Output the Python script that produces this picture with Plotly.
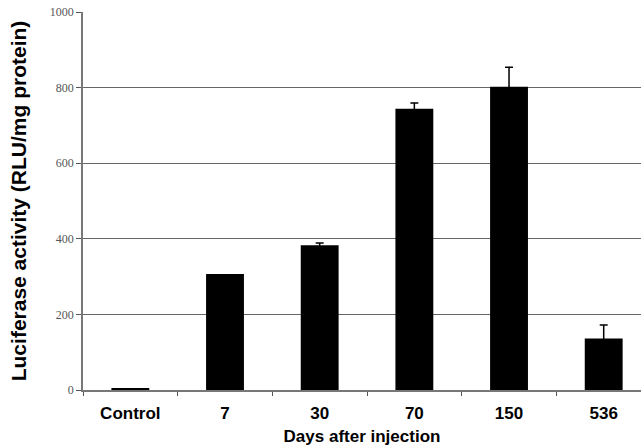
import plotly.graph_objects as go

categories = ["Control", "7", "30", "70", "150", "536"]
values = [5, 307, 383, 744, 802, 136]
errors = [0, 0, 6, 15, 52, 36]
y_ticks = [0, 200, 400, 600, 800, 1000]

fig = go.Figure()
fig.add_trace(go.Bar(
    x=categories, y=values, width=0.4,
    marker=dict(color="black", line=dict(width=0)),
))

err_idx = [i for i, e in enumerate(errors) if e > 0]
fig.add_trace(go.Scatter(
    x=[categories[i] for i in err_idx],
    y=[values[i] for i in err_idx],
    mode="markers", marker=dict(size=0.1, color="black", opacity=0),
    error_y=dict(type="data", symmetric=True,
                 array=[errors[i] for i in err_idx],
                 color="black", thickness=1.5, width=4),
    hoverinfo="skip",
))

fig.update_layout(
    width=641, height=446,
    margin=dict(l=83, r=0, t=12, b=56),
    plot_bgcolor="white", paper_bgcolor="white",
    showlegend=False, bargap=0.6,
)
fig.update_xaxes(
    range=[-0.5, 5.394], type="category", automargin=False,
    showline=True, linecolor="#777777", linewidth=1.5,
    ticks="outside", tickson="boundaries", ticklen=4, tickcolor="#555555",
    ticklabelstandoff=7,
    tickfont=dict(family="Liberation Sans", size=17, color="black", weight="bold"),
    title=dict(text="Days after injection", standoff=8,
               font=dict(family="Liberation Sans", size=17, color="black", weight="bold")),
    showgrid=False,
)
fig.update_yaxes(
    range=[0, 1000], tickvals=y_ticks, automargin=False,
    showline=True, linecolor="#777777", linewidth=1.5,
    ticks="outside", ticklen=5, tickcolor="#555555",
    tickfont=dict(family="Liberation Serif", size=12, color="#555555"),
    showgrid=True, gridcolor="#666666", gridwidth=1,
    zeroline=False,
    title=dict(text="Luciferase activity (RLU/mg protein)", standoff=17,
               font=dict(family="Liberation Sans", size=21, color="black", weight="bold")),
)

fig.write_html("out.html", config={"displayModeBar": False},
               post_script="document.body.style.margin='0';")
